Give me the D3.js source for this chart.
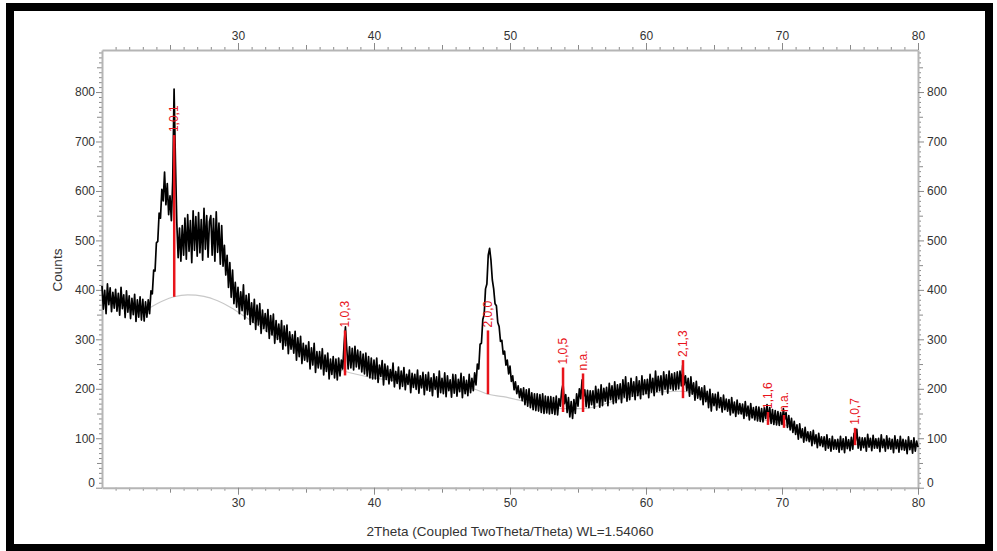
<!DOCTYPE html>
<html>
<head>
<meta charset="utf-8">
<script src="https://cdn.jsdelivr.net/npm/d3@7"></script>
<style>
  body { margin: 0; background: #fff; }
  svg text { font-family: "Liberation Sans", Arial, sans-serif; }
</style>
</head>
<body>
<svg id="chart" width="997" height="551"></svg>
<script>
// scan grid (2Theta, degrees)
const angleStart = 20, angleStep = 0.1;

// measured counts, one row per degree (x.0 .. x.9), last value at 80.0
const counts = [
  408, 361, 399, 352, 412, 370, 404, 356, 395, 363,
  401, 357, 393, 349, 405, 362, 390, 344, 398, 355,
  388, 342, 383, 350, 391, 336, 380, 345, 386, 339,
  381, 337, 376, 345, 380, 352, 398, 392, 440, 438,
  495, 498, 555, 545, 603, 580, 638, 572, 615, 552,
  590, 540, 620, 806, 660, 535, 465, 525, 458, 530,
  470, 545, 462, 552, 478, 540, 455, 560, 480, 548,
  468, 556, 475, 542, 460, 565, 482, 550, 466, 538,
  550, 470, 544, 458, 558, 476, 535, 452, 530, 448,
  490, 430, 470, 405, 455, 385, 440, 372, 415, 365,
  405, 352, 396, 358, 410, 341, 389, 350, 392, 330,
  374, 334, 381, 320, 369, 329, 372, 312, 359, 322,
  352, 316, 360, 302, 348, 309, 351, 292, 338, 300,
  331, 294, 338, 280, 327, 287, 329, 271, 315, 280,
  309, 272, 316, 258, 303, 265, 306, 251, 292, 258,
  288, 255, 295, 240, 283, 248, 292, 233, 275, 242,
  275, 240, 281, 228, 268, 235, 272, 220, 260, 229,
  265, 222, 260, 218, 262, 226, 258, 240, 290, 325,
  280, 240, 285, 242, 282, 238, 286, 244, 278, 240,
  275, 234, 270, 230, 272, 226, 265, 222, 262, 220,
  258, 220, 262, 213, 248, 225, 257, 208, 250, 219,
  246, 210, 239, 216, 252, 204, 235, 211, 244, 200,
  236, 205, 243, 198, 229, 209, 238, 192, 231, 203,
  229, 199, 238, 191, 226, 202, 233, 188, 228, 197,
  233, 195, 222, 186, 230, 199, 224, 183, 236, 192,
  221, 190, 232, 184, 226, 196, 218, 183, 229, 191,
  228, 185, 219, 194, 231, 182, 224, 190, 217, 186,
  229, 192, 221, 196, 232, 208, 250, 240, 290, 292,
  340, 350, 402, 412, 470, 484, 460, 420, 402, 372,
  368, 334, 326, 296, 298, 270, 276, 248, 258, 230,
  246, 215, 226, 198, 214, 190, 206, 182, 200, 176,
  202, 168, 198, 165, 200, 162, 192, 158, 190, 156,
  190, 155, 188, 152, 190, 150, 185, 151, 184, 149,
  184, 150, 182, 148, 185, 147, 180, 165, 196, 210,
  170, 188, 152, 182, 143, 174, 140, 178, 150, 190,
  165, 200, 180, 218, 185, 198, 164, 197, 162, 196,
  168, 196, 161, 205, 172, 199, 163, 208, 166, 201,
  175, 203, 166, 211, 178, 206, 170, 214, 172, 208,
  180, 210, 172, 218, 183, 224, 175, 212, 178, 221,
  185, 214, 178, 224, 186, 216, 180, 226, 188, 218,
  190, 219, 182, 229, 193, 221, 186, 236, 194, 225,
  196, 226, 188, 234, 199, 228, 191, 236, 200, 230,
  197, 232, 198, 234, 200, 236, 206, 248, 208, 226,
  196, 221, 185, 224, 189, 212, 177, 215, 181, 204,
  178, 202, 168, 206, 174, 195, 162, 199, 155, 190,
  166, 189, 157, 193, 162, 182, 153, 187, 158, 179,
  155, 178, 147, 182, 151, 173, 144, 177, 149, 170,
  149, 169, 140, 174, 145, 165, 137, 170, 141, 162,
  137, 164, 135, 163, 134, 160, 133, 162, 140, 168,
  136, 162, 130, 158, 128, 156, 127, 154, 126, 152,
  128, 160, 138, 152, 122, 146, 117, 140, 112, 134,
  108, 127, 98, 129, 101, 119, 92, 122, 95, 113,
  93, 113, 85, 116, 89, 107, 81, 110, 85, 103,
  83, 103, 76, 107, 80, 99, 74, 104, 78, 97,
  78, 98, 72, 104, 77, 99, 71, 103, 79, 97,
  75, 102, 78, 110, 95, 118, 80, 102, 76, 101,
  81, 101, 74, 108, 82, 100, 75, 106, 80, 99,
  80, 100, 73, 107, 81, 98, 74, 105, 79, 100,
  78, 98, 71, 105, 79, 97, 72, 104, 77, 98,
  76, 96, 69, 103, 77, 95, 70, 101, 74, 94,
  82
];

// fitted background (grey)
const bgAngles = [23.4, 24.5, 25.3, 26.3, 27.5, 28.5, 29.5, 30.5, 32, 34, 36, 37.9, 40, 43, 46, 47.3, 48.4, 49.5, 50.5, 52, 53.9, 55.4, 58, 60, 62.7, 65, 67, 69, 70.15, 72, 75.37, 78, 80];
const bgCounts = [362, 378, 386, 390, 387, 378, 364, 346, 318, 285, 255, 235, 222, 212, 205, 200, 189, 184, 178, 168, 160, 160, 178, 190, 195, 172, 150, 135, 128, 100, 88, 86, 84];

// reference sticks
const peakAngles = [25.31, 37.87, 48.38, 53.9, 55.37, 62.72, 68.97, 70.15, 75.37];
const peakLabels = ["1,0,1", "1,0,3", "2,0,0", "1,0,5", "n.a.", "2,1,3", "1,1,6", "n.a.", "1,0,7"];
const peakTops = [713, 318, 318, 243, 231, 258, 153, 147, 121];
const peakBases = [386, 227, 189, 153, 153, 181, 127, 121, 86];

// axis ticks
const xTickLabels = [30, 40, 50, 60, 70, 80];
const yTickLabels = [0, 100, 200, 300, 400, 500, 600, 700, 800];

const svg = d3.select("#chart");

// outer frame
svg.append("rect")
  .attr("x", 10).attr("y", 7)
  .attr("width", 979).attr("height", 541)
  .attr("fill", "#fff")
  .attr("stroke", "#000")
  .attr("stroke-width", 8);

const x = d3.scaleLinear().domain([20, 80]).range([102, 918]);
const y = d3.scaleLinear().domain([0, 885]).range([487.7, 50]);

const axisColor = "#b5b5b5", tickColor = "#8a8a8a", textColor = "#333";

// minor / mid tick positions
const xMinor = d3.range(21, 80, 1).filter(d => d % 5 !== 0);
const xMid = [25, 35, 45, 55, 65, 75];
const yMinor = d3.range(10, 885, 10).filter(d => d % 50 !== 0);
const yMid = d3.range(50, 885, 100);

function styleAxis(g, showLine) {
  g.select(".domain").attr("stroke", showLine ? axisColor : "none").attr("stroke-width", 2);
  g.selectAll(".tick line").attr("stroke", tickColor).attr("stroke-width", 1);
  g.selectAll(".tick text").attr("fill", textColor).style("font-size", "12px");
}

function drawAxes(makeAxis, transform, majors, size, pad, labels) {
  const gMinor = svg.append("g").attr("transform", transform)
    .call(makeAxis().tickValues(majors.minor).tickSize(3).tickSizeOuter(0).tickFormat(""));
  styleAxis(gMinor, false);
  const gMid = svg.append("g").attr("transform", transform)
    .call(makeAxis().tickValues(majors.mid).tickSize(5).tickSizeOuter(0).tickFormat(""));
  styleAxis(gMid, false);
  const gMaj = svg.append("g").attr("transform", transform)
    .call(makeAxis().tickValues(labels).tickSize(size).tickPadding(pad).tickSizeOuter(0));
  styleAxis(gMaj, true);
  return gMaj;
}

drawAxes(() => d3.axisBottom(x), "translate(0,487.7)", {minor: xMinor, mid: xMid}, 7, 4, xTickLabels);
drawAxes(() => d3.axisTop(x), "translate(0,50)", {minor: xMinor, mid: xMid}, 7, 3, xTickLabels);
const gl = drawAxes(() => d3.axisLeft(y), "translate(102,0)", {minor: yMinor, mid: yMid}, 6, 1, yTickLabels);
const gr = drawAxes(() => d3.axisRight(y), "translate(918,0)", {minor: yMinor, mid: yMid}, 6, 3, yTickLabels);
// keep the zero labels clear of the bottom axis
gl.selectAll(".tick text").filter(d => d === 0).attr("y", -5);
gr.selectAll(".tick text").filter(d => d === 0).attr("y", -5);

// background curve
const bgLine = d3.line()
  .x((d, i) => x(bgAngles[i]))
  .y(d => y(d))
  .curve(d3.curveMonotoneX);
svg.append("path")
  .attr("d", bgLine(bgCounts))
  .attr("fill", "none")
  .attr("stroke", "#c8c8c8")
  .attr("stroke-width", 1.2);

// measured pattern
const line = d3.line()
  .x((d, i) => x(angleStart + i * angleStep))
  .y(d => y(d));
svg.append("path")
  .attr("d", line(counts))
  .attr("fill", "none")
  .attr("stroke", "#000")
  .attr("stroke-width", 1.7)
  .attr("stroke-linejoin", "round");

// reference sticks and labels
const sticks = svg.append("g");
sticks.selectAll("line")
  .data(peakAngles)
  .enter()
  .append("line")
    .attr("x1", d => x(d)).attr("x2", d => x(d))
    .attr("y1", (d, i) => y(peakBases[i]))
    .attr("y2", (d, i) => y(peakTops[i]))
    .attr("stroke", "#e8141b")
    .attr("stroke-width", 2.5);
sticks.selectAll("text")
  .data(peakAngles)
  .enter()
  .append("text")
    .attr("transform", (d, i) => "translate(" + x(d) + "," + (y(peakTops[i]) - 3) + ") rotate(-90)")
    .attr("dy", "0.35em")
    .attr("fill", "#e8141b")
    .style("font-size", "12px")
    .text((d, i) => peakLabels[i]);

// axis titles
svg.append("text")
  .attr("transform", "translate(62,270) rotate(-90)")
  .attr("text-anchor", "middle")
  .attr("fill", textColor)
  .style("font-size", "13.5px")
  .text("Counts");
svg.append("text")
  .attr("x", 510).attr("y", 536)
  .attr("text-anchor", "middle")
  .attr("fill", textColor)
  .style("font-size", "13.5px")
  .text("2Theta (Coupled TwoTheta/Theta) WL=1.54060");
</script>
</body>
</html>
